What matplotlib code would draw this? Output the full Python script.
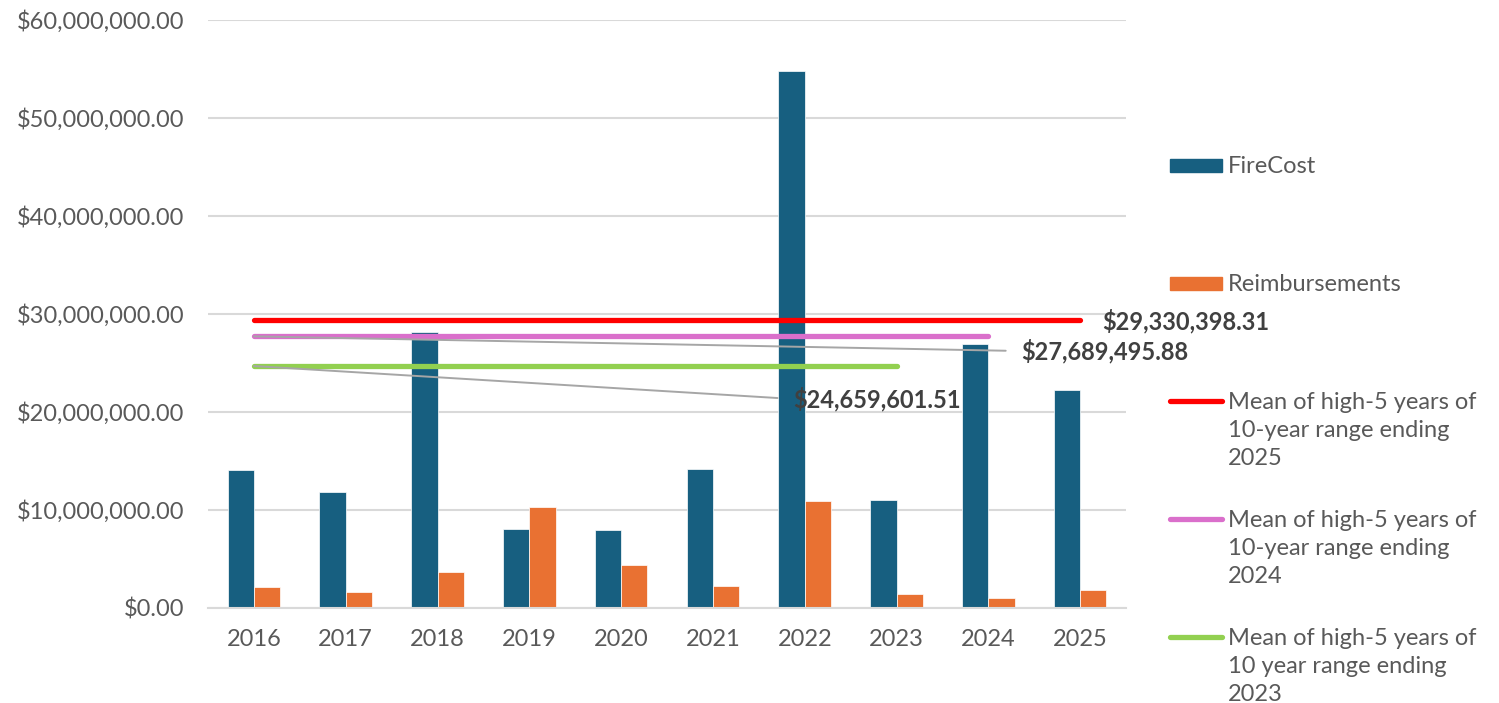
import matplotlib

matplotlib.use("Agg")
import matplotlib.pyplot as plt
from matplotlib.lines import Line2D
from matplotlib.patches import Rectangle
from matplotlib.ticker import FuncFormatter
import numpy as np

years = ["2016", "2017", "2018", "2019", "2020", "2021", "2022", "2023", "2024", "2025"]
fire_cost = [14.02e6, 11.80e6, 28.16e6, 8.03e6, 7.93e6, 14.20e6, 54.75e6, 10.99e6, 26.94e6, 22.20e6]
reimbursements = [2.11e6, 1.60e6, 3.61e6, 10.24e6, 4.36e6, 2.18e6, 10.86e6, 1.37e6, 1.02e6, 1.80e6]

mean_2025 = 29330398.31
mean_2024 = 27689495.88
mean_2023 = 24659601.51

series_labels = [
    "FireCost",
    "Reimbursements",
    "Mean of high-5 years of\n10-year range ending\n2025",
    "Mean of high-5 years of\n10-year range ending\n2024",
    "Mean of high-5 years of\n10 year range ending\n2023",
]

BLUE = "#175F80"
ORANGE = "#E97132"
RED = "#FF0000"
PINK = "#DA6FCB"
GREEN = "#92D050"
GRID = "#D9D9D9"
TXT = "#595959"
FS = 17

plt.rcParams["font.family"] = ["Lato", "DejaVu Sans"]

W, H = 1499, 703
fig = plt.figure(figsize=(W / 100, H / 100), dpi=100)
ax = fig.add_axes([208 / W, 1 - 607.7 / H, (1126 - 208) / W, (607.7 - 19.7) / H])

x = np.arange(len(years))
bw = 0.286
ax.bar(x - bw / 2, fire_cost, bw, color=BLUE, edgecolor="white", linewidth=0.5, zorder=2)
ax.bar(x + bw / 2, reimbursements, bw, color=ORANGE, edgecolor="white", linewidth=0.5, zorder=2)

# mean lines over their year ranges
n25, n24, n23 = 10, 9, 8
ax.plot(x[:n25], [mean_2025] * n25, color=RED, lw=3.8, solid_capstyle="round", zorder=3)
ax.plot(x[:n24], [mean_2024] * n24, color=PINK, lw=3.8, solid_capstyle="round", zorder=3)
ax.plot(x[:n23], [mean_2023] * n23, color=GREEN, lw=3.8, solid_capstyle="round", zorder=3)

lbl_kw = dict(fontsize=FS, fontweight="bold", color="#404040", ha="left", va="center", zorder=5)
ax.annotate(f"${mean_2025:,.2f}", xy=(x[n25 - 1], mean_2025), xytext=(22, -1),
            textcoords="offset pixels", **lbl_kw)
leader = dict(arrowstyle="-", color="#A6A6A6", lw=1.4, shrinkA=9, shrinkB=0, relpos=(0, 0.5))
ax.annotate(f"${mean_2024:,.2f}", xy=(x[0], mean_2024), xytext=(8.356, 26.19e6),
            textcoords="data", arrowprops=leader, **lbl_kw)
ax.annotate(f"${mean_2023:,.2f}", xy=(x[0], mean_2023), xytext=(5.87, 21.3e6),
            textcoords="data", arrowprops=leader, **lbl_kw)

ax.set_xlim(-0.5, len(years) - 0.5)
ax.set_ylim(0, 60e6)
ax.set_yticks(np.arange(0, 60e6 + 1, 10e6))
ax.yaxis.set_major_formatter(FuncFormatter(lambda v, p: f"${v:,.2f}"))
ax.set_xticks(x)
ax.set_xticklabels(years)
ax.grid(axis="y", color=GRID, lw=1.5, zorder=0)
ax.set_axisbelow(True)
for s in ["top", "right", "left"]:
    ax.spines[s].set_visible(False)
ax.spines["bottom"].set_color(GRID)
ax.spines["bottom"].set_linewidth(1.5)
ax.tick_params(axis="y", length=0, pad=17, labelsize=FS, labelcolor=TXT)
ax.tick_params(axis="x", length=0, pad=15, labelsize=FS, labelcolor=TXT)

# legend on the right, drawn entry by entry
handles = [("patch", BLUE), ("patch", ORANGE), ("line", RED), ("line", PINK), ("line", GREEN)]
for i, ((kind, col), label) in enumerate(zip(handles, series_labels)):
    yc = 1 - (165 + 118 * i) / H
    if kind == "patch":
        fig.add_artist(Rectangle((1170 / W, yc - 6.5 / H), 52 / W, 13 / H,
                                 transform=fig.transFigure, color=col))
    else:
        fig.add_artist(Line2D([1170 / W, 1222 / W], [yc, yc], transform=fig.transFigure,
                              color=col, lw=3.8, solid_capstyle="round"))
    fig.text(1228 / W, yc + 9 / H, label, fontsize=FS, color=TXT, ha="left", va="top",
             linespacing=1.42)

fig.savefig("out.png", dpi=100)
